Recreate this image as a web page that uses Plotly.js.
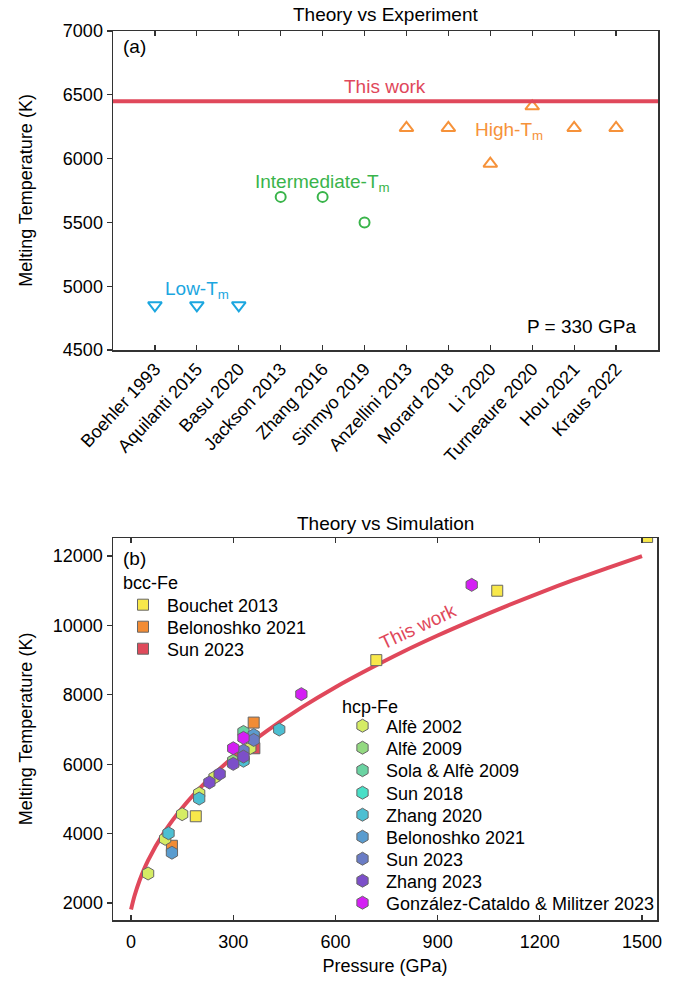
<!DOCTYPE html>
<html><head><meta charset="utf-8">
<script src="https://cdn.plot.ly/plotly-3.0.1.min.js"></script>
<style>html,body{margin:0;padding:0;background:#fff;} #chart{width:683px;height:984px;}</style>
</head><body><div id="chart"></div>
<script>
// ---------- Panel (a): Theory vs Experiment ----------
const studies = ['Boehler 1993','Aquilanti 2015','Basu 2020','Jackson 2013','Zhang 2016','Sinmyo 2019',
                 'Anzellini 2013','Morard 2018','Li 2020','Turneaure 2020','Hou 2021','Kraus 2022'];
const lowStudies = ['Boehler 1993','Aquilanti 2015','Basu 2020'];
const lowTm = [4850, 4850, 4850];
const midStudies = ['Jackson 2013','Zhang 2016','Sinmyo 2019'];
const midTm = [5700, 5700, 5500];
const highStudies = ['Anzellini 2013','Morard 2018','Li 2020','Turneaure 2020','Hou 2021','Kraus 2022'];
const highTm = [6240, 6240, 5960, 6410, 6240, 6240];
const thisWorkTm330 = 6450;

// ---------- Panel (b): Theory vs Simulation ----------
const curveP = [0, 10, 25, 50, 100, 150, 200, 250, 300, 330, 400, 500, 600, 700, 800, 900, 1000, 1100, 1200, 1300, 1400, 1500];
const curveT = [1811, 2200, 2650, 3230, 4080, 4740, 5290, 5770, 6210, 6450, 6970, 7630, 8220, 8750, 9250, 9710, 10140, 10550, 10940, 11310, 11660, 12000];

// bcc-Fe
const bouchet2013P = [190, 720, 1075, 1515];
const bouchet2013T = [4500, 9000, 11000, 12550];
const belonoshkoBccP = [120, 360];
const belonoshkoBccT = [3650, 7200];
const sunBccP = [362];
const sunBccT = [6460];

// hcp-Fe
const alfe2002P = [50, 100, 150, 200, 245, 350];
const alfe2002T = [2850, 3850, 4560, 5160, 5620, 6470];
const alfe2009P = [300];
const alfe2009T = [6100];
const sola2009P = [330];
const sola2009T = [6930];
const sun2018P = [330];
const sun2018T = [6150];
const zhang2020P = [110, 200, 330, 435];
const zhang2020T = [4010, 5010, 6100, 7000];
const belonoshkoHcpP = [120, 360];
const belonoshkoHcpT = [3450, 6840];
const sun2023HcpP = [330, 360];
const sun2023HcpT = [6390, 6700];
const zhang2023P = [230, 260, 300, 330];
const zhang2023T = [5475, 5720, 6010, 6220];
const gcmP = [300, 330, 500, 1000];
const gcmT = [6460, 6760, 8020, 11170];

const W = 683, H = 984;
const px = v => v / W;
const py = v => 1 - v / H;
const FONT = 'Liberation Sans, Arial, sans-serif';
const RED = '#e0485b';
const BLUE = '#1ba6df', GREEN = '#39b44a', ORANGE = '#f6923a';
const MLINE = {color: '#666', width: 1};

const traces = [];
traces.push({x: lowStudies, y: lowTm, xaxis: 'x', yaxis: 'y', mode: 'markers', type: 'scatter', showlegend: false,
  marker: {symbol: 'triangle-down-open', size: 12, color: BLUE, line: {width: 2, color: BLUE}}});
traces.push({x: midStudies, y: midTm, xaxis: 'x', yaxis: 'y', mode: 'markers', type: 'scatter', showlegend: false,
  marker: {symbol: 'circle-open', size: 10, color: GREEN, line: {width: 2, color: GREEN}}});
traces.push({x: highStudies, y: highTm, xaxis: 'x', yaxis: 'y', mode: 'markers', type: 'scatter', showlegend: false,
  marker: {symbol: 'triangle-up-open', size: 12, color: ORANGE, line: {width: 2, color: ORANGE}}});

// panel b curve
traces.push({x: curveP, y: curveT, xaxis: 'x2', yaxis: 'y2', mode: 'lines', type: 'scatter', showlegend: false,
  line: {color: RED, width: 4, shape: 'spline', smoothing: 1}});

// each legend entry gets its own small legend box so the row spacing can match the reference
const legends = {};
let legendCount = 0;
function legendFor(xPix, yPix, itemW) {
  legendCount += 1;
  const id = legendCount === 1 ? 'legend' : 'legend' + legendCount;
  legends[id] = {x: px(xPix), xanchor: 'left', y: py(yPix), yanchor: 'middle', bgcolor: 'rgba(0,0,0,0)',
    font: {size: 18, color: '#000'}, itemwidth: itemW, tracegroupgap: 0, borderwidth: 0};
  return id;
}
const bccRows = [605, 627, 649];
const hcpRows = [726, 748, 770.5, 793, 815, 837, 859, 881, 903];
let bccI = 0, hcpI = 0;
function sq(name, P, T, color) {
  return {x: P, y: T, name: name, xaxis: 'x2', yaxis: 'y2', mode: 'markers', type: 'scatter',
    legend: legendFor(119, bccRows[bccI++], 38),
    marker: {symbol: 'square', size: 11, color: color, line: MLINE}};
}
function hx(name, P, T, color) {
  return {x: P, y: T, name: name, xaxis: 'x2', yaxis: 'y2', mode: 'markers', type: 'scatter',
    legend: legendFor(339, hcpRows[hcpI++], 37),
    marker: {symbol: 'hexagon', size: 13, color: color, line: MLINE}};
}
traces.push(sq('Bouchet 2013', bouchet2013P, bouchet2013T, '#f8e84a'));
traces.push(sq('Belonoshko 2021', belonoshkoBccP, belonoshkoBccT, '#f28c35'));
traces.push(sq('Sun 2023', sunBccP, sunBccT, '#df4a5b'));
traces.push(hx('Alfè 2002', alfe2002P, alfe2002T, '#d5ec64'));
traces.push(hx('Alfè 2009', alfe2009P, alfe2009T, '#93d981'));
traces.push(hx('Sola & Alfè 2009', sola2009P, sola2009T, '#6ad3a2'));
traces.push(hx('Sun 2018', sun2018P, sun2018T, '#48dfc7'));
traces.push(hx('Zhang 2020', zhang2020P, zhang2020T, '#4cbfd2'));
traces.push(hx('Belonoshko 2021', belonoshkoHcpP, belonoshkoHcpT, '#5a9ccf'));
traces.push(hx('Sun 2023', sun2023HcpP, sun2023HcpT, '#6a7cc5'));
traces.push(hx('Zhang 2023', zhang2023P, zhang2023T, '#7c4fc9'));
traces.push(hx('González-Cataldo & Militzer 2023', gcmP, gcmT, '#d41ff4'));

const axisCommon = {showline: true, linecolor: '#333', linewidth: 1.5, showgrid: false, zeroline: false,
  tickcolor: '#333', ticklen: 5, tickwidth: 1.2, tickfont: {size: 18, color: '#000'}};

function ann(text, x, y, opts) {
  return Object.assign({text: text, xref: 'paper', yref: 'paper', x: px(x), y: py(y), xanchor: 'center', yanchor: 'middle',
    showarrow: false, font: {size: 19, color: '#000'}}, opts || {});
}

const layout = Object.assign({
  width: W, height: H,
  margin: {l: 0, r: 0, t: 0, b: 0},
  paper_bgcolor: '#fff', plot_bgcolor: '#fff',
  font: {family: FONT, size: 18, color: '#000'},
  xaxis: Object.assign({}, axisCommon, {
    domain: [px(113), px(658)], anchor: 'y', type: 'category', categoryorder: 'array', categoryarray: studies,
    range: [-1, 12], ticks: 'inside', mirror: 'ticks', tickangle: -47}),
  yaxis: Object.assign({}, axisCommon, {
    domain: [py(350), py(31)], anchor: 'x', range: [4500, 7000], tick0: 4500, dtick: 500, ticks: 'outside', mirror: true,
    title: {text: 'Melting Temperature (K)', font: {size: 18}, standoff: 25}}),
  yaxis3: {overlaying: 'y', anchor: 'x', side: 'right', range: [4500, 7000], tick0: 4500, dtick: 500, ticks: 'inside',
    ticklen: 5, tickwidth: 1.2, tickcolor: '#333', showticklabels: false, showgrid: false, zeroline: false, showline: false},
  xaxis2: Object.assign({}, axisCommon, {
    domain: [px(113), px(657)], anchor: 'y2', range: [-53, 1544], tick0: 0, dtick: 300, ticks: 'inside', mirror: 'ticks',
    ticklabelstandoff: 5,
    title: {text: 'Pressure (GPa)', font: {size: 18}, standoff: 8}}),
  yaxis2: Object.assign({}, axisCommon, {
    domain: [py(920), py(538)], anchor: 'x2', range: [1510, 12520], tick0: 0, dtick: 2000, tickformat: 'd',
    ticks: 'outside', mirror: true,
    title: {text: 'Melting Temperature (K)', font: {size: 18}, standoff: 15}}),
  yaxis4: {overlaying: 'y2', anchor: 'x2', side: 'right', range: [1510, 12520], tick0: 0, dtick: 2000, ticks: 'inside',
    ticklen: 5, tickwidth: 1.2, tickcolor: '#333', showticklabels: false, showgrid: false, zeroline: false, showline: false},
  shapes: [{type: 'line', xref: 'x domain', x0: 0, x1: 1, yref: 'y', y0: thisWorkTm330, y1: thisWorkTm330,
    line: {color: RED, width: 4}}],
  annotations: [
    ann('Theory vs Experiment', 385.5, 14),
    ann('(a)', 121, 47, {xanchor: 'left'}),
    ann('This work', 385, 87, {font: {size: 19, color: RED}}),
    ann('High-T<sub>m</sub>', 509, 131, {font: {size: 19, color: ORANGE}}),
    ann('Intermediate-T<sub>m</sub>', 322, 183, {font: {size: 19, color: GREEN}}),
    ann('Low-T<sub>m</sub>', 197, 290, {font: {size: 19, color: BLUE}}),
    ann('P = 330 GPa', 638, 326, {xanchor: 'right'}),
    ann('Theory vs Simulation', 385, 523),
    ann('(b)', 121, 558, {xanchor: 'left'}),
    ann('bcc-Fe', 121, 583, {xanchor: 'left', font: {size: 18, color: '#000'}}),
    ann('hcp-Fe', 340, 707, {xanchor: 'left', font: {size: 18, color: '#000'}}),
    ann('This work', 418, 626, {textangle: -25, font: {size: 19, color: RED}})
  ]
}, legends);

Plotly.newPlot('chart', traces, layout, {displayModeBar: false, staticPlot: true});
</script>
</body></html>
